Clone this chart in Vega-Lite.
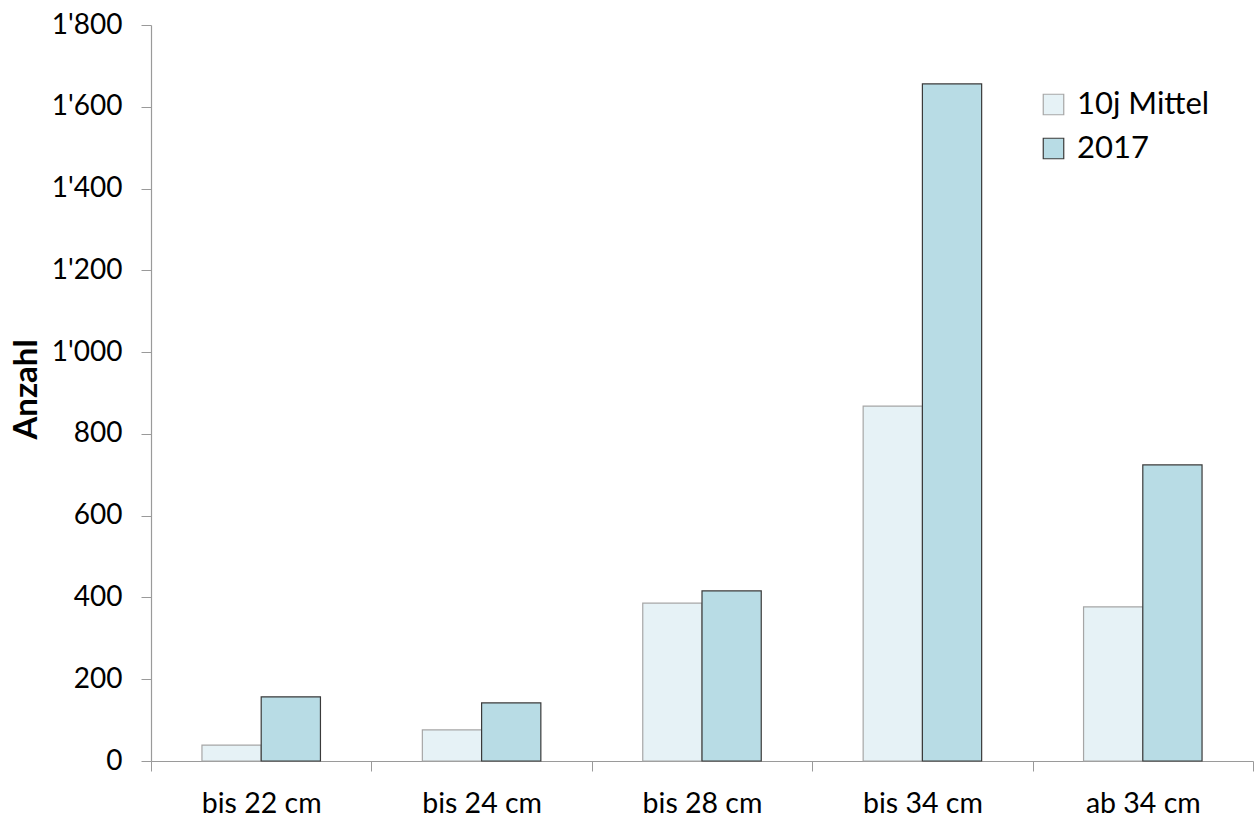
{
  "$schema": "https://vega.github.io/schema/vega-lite/v6.json",
  "width": 1102,
  "height": 736,
  "padding": {"left": 151, "top": 25, "right": 3, "bottom": 58},
  "autosize": {"type": "none"},
  "background": "white",
  "config": {
    "view": {"stroke": null},
    "font": "Lato",
    "axis": {"labelFont": "Lato", "titleFont": "Lato", "labelColor": "#000000", "titleColor": "#000000"}
  },
  "data": {
    "values": [
      {"klasse": "bis 22 cm", "serie": "10j Mittel", "anzahl": 39},
      {"klasse": "bis 22 cm", "serie": "2017", "anzahl": 157},
      {"klasse": "bis 24 cm", "serie": "10j Mittel", "anzahl": 76},
      {"klasse": "bis 24 cm", "serie": "2017", "anzahl": 142},
      {"klasse": "bis 28 cm", "serie": "10j Mittel", "anzahl": 386},
      {"klasse": "bis 28 cm", "serie": "2017", "anzahl": 416},
      {"klasse": "bis 34 cm", "serie": "10j Mittel", "anzahl": 868},
      {"klasse": "bis 34 cm", "serie": "2017", "anzahl": 1656},
      {"klasse": "ab 34 cm", "serie": "10j Mittel", "anzahl": 377},
      {"klasse": "ab 34 cm", "serie": "2017", "anzahl": 724}
    ]
  },
  "mark": {"type": "bar", "strokeWidth": 1.2},
  "encoding": {
    "x": {
      "field": "klasse",
      "type": "nominal",
      "sort": ["bis 22 cm", "bis 24 cm", "bis 28 cm", "bis 34 cm", "ab 34 cm"],
      "scale": {"paddingInner": 0, "paddingOuter": 0},
      "axis": {
        "title": null,
        "labelAngle": 0,
        "labelFontSize": 28.5,
        "labelPadding": 18,
        "tickBand": "extent",
        "tickSize": 10,
        "tickColor": "#9a9a9a",
        "domainColor": "#9a9a9a",
        "domainWidth": 1.2
      }
    },
    "xOffset": {
      "field": "serie",
      "type": "nominal",
      "sort": ["10j Mittel", "2017"],
      "scale": {"paddingInner": 0, "paddingOuter": 0.86}
    },
    "y": {
      "field": "anzahl",
      "type": "quantitative",
      "scale": {"domain": [0, 1800], "nice": false},
      "axis": {
        "title": "Anzahl",
        "titleFontSize": 33,
        "titleFontWeight": "bold",
        "titleAngle": -90,
        "titleX": -125,
        "titleY": 364,
        "titleAlign": "center",
        "titleBaseline": "middle",
        "values": [0, 200, 400, 600, 800, 1000, 1200, 1400, 1600, 1800],
        "labelExpr": "replace(format(datum.value, ','), ',', \"'\")",
        "labelFontSize": 28,
        "labelPadding": 19,
        "tickSize": 10,
        "tickColor": "#9a9a9a",
        "domainColor": "#9a9a9a",
        "domainWidth": 1.2,
        "grid": false
      }
    },
    "fill": {
      "field": "serie",
      "type": "nominal",
      "scale": {"domain": ["10j Mittel", "2017"], "range": ["#e6f2f6", "#b8dce5"]},
      "legend": {
        "title": null,
        "orient": "none",
        "legendX": 887,
        "legendY": 64,
        "symbolType": "square",
        "symbolSize": 420,
        "symbolStrokeWidth": 1.2,
        "labelFontSize": 31,
        "labelFont": "Lato",
        "labelColor": "#000000",
        "labelOffset": 8,
        "rowPadding": 12,
        "encode": {
          "symbols": {
            "update": {
              "stroke": {"signal": "datum.value === '2017' ? '#3a3a3a' : '#a6a6a6'"},
              "fillOpacity": {"value": 1}
            }
          }
        }
      }
    },
    "stroke": {
      "field": "serie",
      "type": "nominal",
      "scale": {"domain": ["10j Mittel", "2017"], "range": ["#a6a6a6", "#3a3a3a"]},
      "legend": null
    }
  }
}
